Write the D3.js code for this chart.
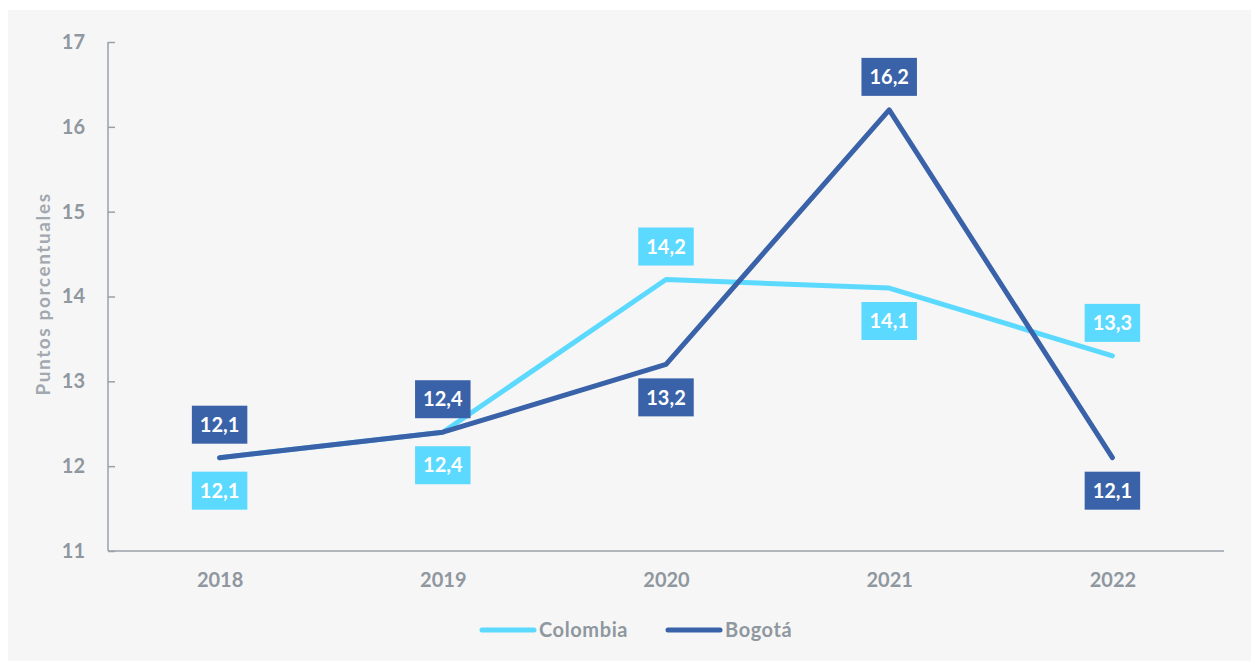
<!DOCTYPE html>
<html>
<head>
<meta charset="utf-8">
<script src="https://cdn.jsdelivr.net/npm/d3@7"></script>
<style>
  body { margin: 0; background: #fff; }
  svg { display: block; font-family: Lato, "Open Sans", sans-serif; }
  .axis text { fill: #8f979f; font-size: 20px; font-weight: 700; font-family: Lato, sans-serif; }
  .axis path, .axis line { stroke: #9aa1a8; stroke-width: 1.5; }
</style>
</head>
<body>
<div id="chart"></div>
<script>
(function() {
  var years = ["2018", "2019", "2020", "2021", "2022"];
  var colombia = [12.1, 12.4, 14.2, 14.1, 13.3];
  var bogota = [12.1, 12.4, 13.2, 16.2, 12.1];
  var yTicks = [11, 12, 13, 14, 15, 16, 17];
  // where each value label sits: 1 = above the point, -1 = below
  var colombiaSide = [-1, -1, 1, -1, 1];
  var bogotaSide = [1, 1, -1, 1, -1];

  var W = 1251, H = 661;
  var margin = { top: 42, left: 108, right: 27, bottom: 110 };
  var width = W - margin.left - margin.right,
      height = H - margin.top - margin.bottom;

  var root = d3.select("#chart").append("svg")
    .attr("width", W)
    .attr("height", H);

  // grey panel
  root.append("rect")
    .attr("x", 8).attr("y", 10)
    .attr("width", W - 8).attr("height", H - 10)
    .attr("fill", "#f6f6f6");

  var svg = root.append("g")
    .attr("transform", "translate(" + margin.left + "," + margin.top + ")");

  var xPositionScale = d3.scalePoint().domain(years).range([0, width]).padding(0.5);
  var yPositionScale = d3.scaleLinear().domain([11, 17]).range([height, 0]);

  var xAxis = d3.axisBottom(xPositionScale).tickSize(0).tickPadding(22);
  svg.append("g")
    .attr("class", "axis x-axis")
    .attr("transform", "translate(0," + height + ")")
    .call(xAxis)
    .call(function(g) { g.select(".domain").attr("d", "M0,0H" + width); });

  var yAxis = d3.axisLeft(yPositionScale).tickValues(yTicks).tickFormat(d3.format("d")).tickSize(0).tickPadding(23);
  var yg = svg.append("g")
    .attr("class", "axis y-axis")
    .call(yAxis);
  yg.select(".domain").attr("d", "M0," + height + "V0");
  yg.selectAll(".tick line").attr("x1", 0).attr("x2", 7);

  svg.append("text")
    .attr("transform", "translate(" + (43 - margin.left) + "," + (294 - margin.top) + ") rotate(-90)")
    .attr("text-anchor", "middle")
    .attr("dy", "0.35em")
    .attr("fill", "#a1a8af")
    .attr("style", "font-size:19px; font-weight:700; letter-spacing:1.6px")
    .text("Puntos porcentuales");

  var series = [
    { name: "Colombia", values: colombia, side: colombiaSide, color: "#5cd9ff" },
    { name: "Bogotá", values: bogota, side: bogotaSide, color: "#3a62a8" }
  ];

  var line = d3.line()
    .x(function(d, i) { return xPositionScale(years[i]); })
    .y(function(d) { return yPositionScale(d); });

  series.forEach(function(s) {
    svg.append("path")
      .datum(s.values)
      .attr("d", line)
      .attr("fill", "none")
      .attr("stroke", s.color)
      .attr("stroke-width", 5)
      .attr("stroke-linecap", "round")
      .attr("stroke-linejoin", "round");
  });

  series.forEach(function(s) {
    var lab = svg.selectAll(".lab-" + s.name)
      .data(s.values)
      .enter()
      .append("g")
      .attr("transform", function(d, i) {
        var cy = yPositionScale(d) - s.side[i] * 33;
        return "translate(" + xPositionScale(years[i]) + "," + cy + ")";
      });
    var rects = lab.append("rect")
      .attr("y", -19)
      .attr("height", 38)
      .attr("fill", s.color);
    lab.append("text")
      .attr("text-anchor", "middle")
      .attr("dy", "0.36em")
      .attr("fill", "#fff")
      .attr("style", "font-size:20px; font-weight:700")
      .text(function(d) { return d3.format(".1f")(d).replace(".", ","); })
      .each(function() {
        var w = this.getComputedTextLength() + 16;
        d3.select(this.parentNode).select("rect")
          .attr("x", -w / 2)
          .attr("width", w);
      });
  });

  // legend
  var legend = root.append("g").attr("transform", "translate(480,630)");
  var lx = 0;
  series.forEach(function(s) {
    var item = legend.append("g").attr("transform", "translate(" + lx + ",0)");
    item.append("line")
      .attr("x1", 2).attr("x2", 54)
      .attr("stroke", s.color)
      .attr("stroke-width", 5)
      .attr("stroke-linecap", "round");
    item.append("text")
      .attr("x", 59)
      .attr("dy", "0.35em")
      .attr("fill", "#8f979f")
      .attr("style", "font-size:20px; font-weight:700; letter-spacing:0.6px")
      .text(s.name);
    lx += 186;
  });
})();
</script>
</body>
</html>
